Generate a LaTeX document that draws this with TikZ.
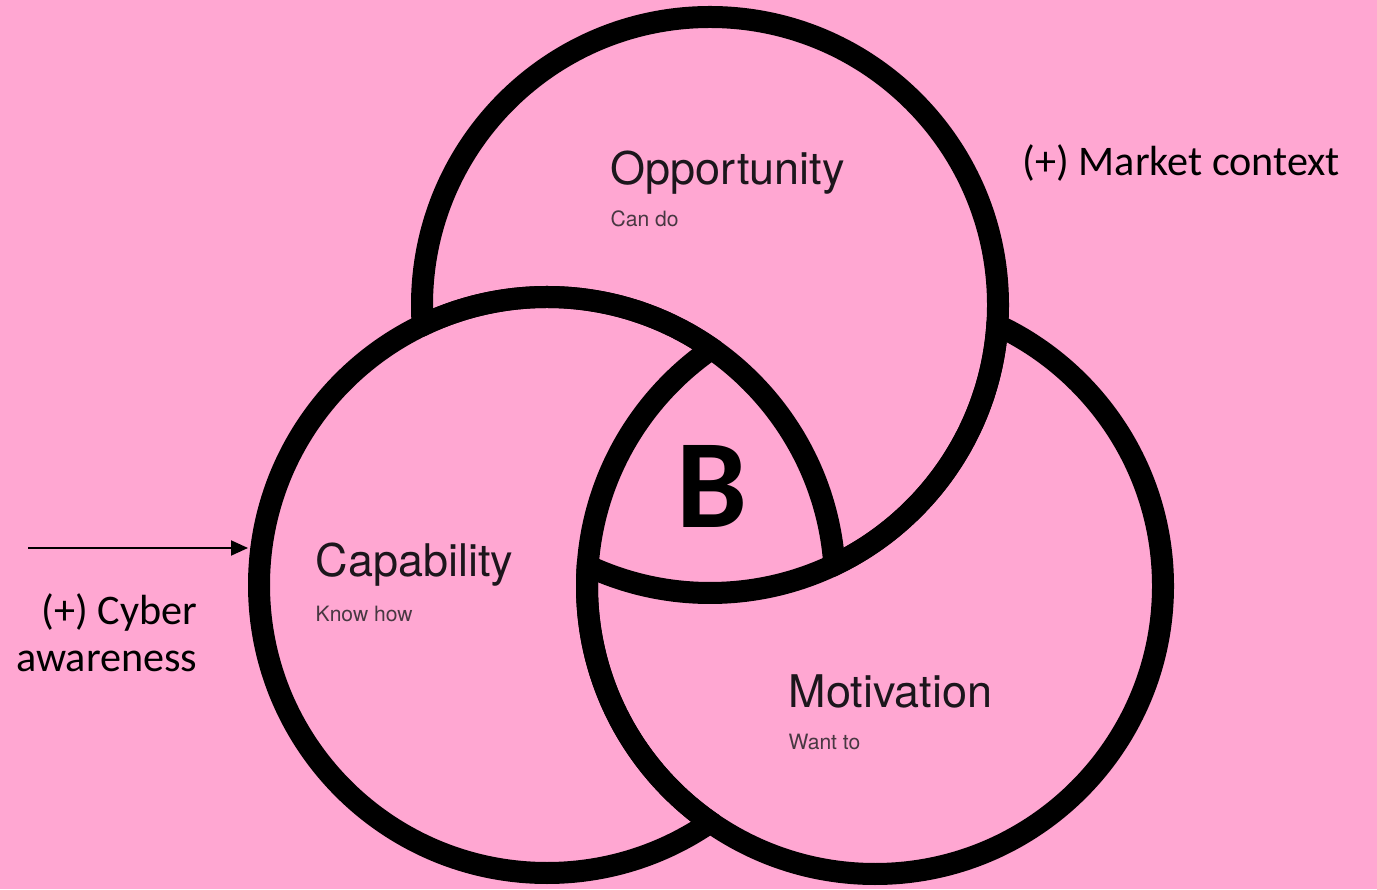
\documentclass[tikz,border=0pt]{standalone}
\usepackage{fontspec}
\setmainfont{Carlito}
\newfontfamily\helv{TeX Gyre Heros}
\usetikzlibrary{arrows.meta}
\definecolor{bgpink}{RGB}{255,167,210}
\definecolor{titlecol}{RGB}{28,22,28}
\definecolor{subcol}{RGB}{72,56,66}
\begin{document}
\begin{tikzpicture}[x=1cm,y=1cm,
  ring/.style={circle, minimum size=5.98cm, inner sep=0pt, outer sep=0pt},
  rim/.style={line width=0.22cm, draw=black},
  title/.style={font=\helv\fontsize{12.8}{15}\selectfont, text=titlecol, inner sep=0pt, anchor=base west},
  sub/.style={font=\helv\fontsize{6}{7}\selectfont, text=subcol, inner sep=0pt, anchor=base west},
  note/.style={font=\fontsize{12}{14}\selectfont, text=black, inner sep=0pt},
  arrowline/.style={line width=0.02cm, -{Triangle[length=0.17cm,width=0.15cm]}},
]
\fill[bgpink] (0,0) rectangle (13.77,8.89);
\useasboundingbox (0,0) rectangle (13.77,8.89);
\def\R{2.88}
\coordinate (cO) at (7.10,5.84);
\coordinate (cC) at (5.47,3.04);
\coordinate (cM) at (8.75,3.03);
\node[ring] (Opp) at (cO) {};
\node[ring] (Cap) at (cC) {};
\node[ring] (Mot) at (cM) {};

% Opportunity ring: hidden inside Capability but outside Motivation
\begin{scope}
  \clip (cM) circle (\R);
  \draw[rim] (cO) circle (\R);
\end{scope}
\begin{scope}[even odd rule]
  \clip (-1,-1) rectangle (15,10) (cC) circle (\R);
  \draw[rim] (cO) circle (\R);
\end{scope}
% Capability ring: hidden inside Motivation but outside Opportunity
\begin{scope}
  \clip (cO) circle (\R);
  \draw[rim] (cC) circle (\R);
\end{scope}
\begin{scope}[even odd rule]
  \clip (-1,-1) rectangle (15,10) (cM) circle (\R);
  \draw[rim] (cC) circle (\R);
\end{scope}
% Motivation ring: hidden inside Opportunity but outside Capability
\begin{scope}
  \clip (cC) circle (\R);
  \draw[rim] (cM) circle (\R);
\end{scope}
\begin{scope}[even odd rule]
  \clip (-1,-1) rectangle (15,10) (cO) circle (\R);
  \draw[rim] (cM) circle (\R);
\end{scope}

% labels
\node[title] (oppT) at (6.10,7.04) {Opportunity};
\node[sub] (oppS) at (6.10,6.62) {Can do};
\node[title] (capT) at (3.15,3.12) {Capability};
\node[sub] (capS) at (3.15,2.67) {Know how};
\node[title] (motT) at (7.88,1.81) {Motivation};
\node[sub] (motS) at (7.88,1.39) {Want to};
\node[font=\bfseries\fontsize{36}{40}\selectfont, inner sep=0pt] (B) at (7.12,4.03) {B};

\node[note, anchor=base west] (market) at (10.22,7.13) {(+) Market context};
\node[note, anchor=base east] (cyber1) at (1.98,2.64) {(+) Cyber};
\node[note, anchor=base east] (cyber2) at (1.98,2.17) {awareness};

\coordinate (arrowstart) at (0.28,3.41);
\draw[arrowline] (arrowstart) -- (arrowstart -| Cap.west);
\end{tikzpicture}
\end{document}
